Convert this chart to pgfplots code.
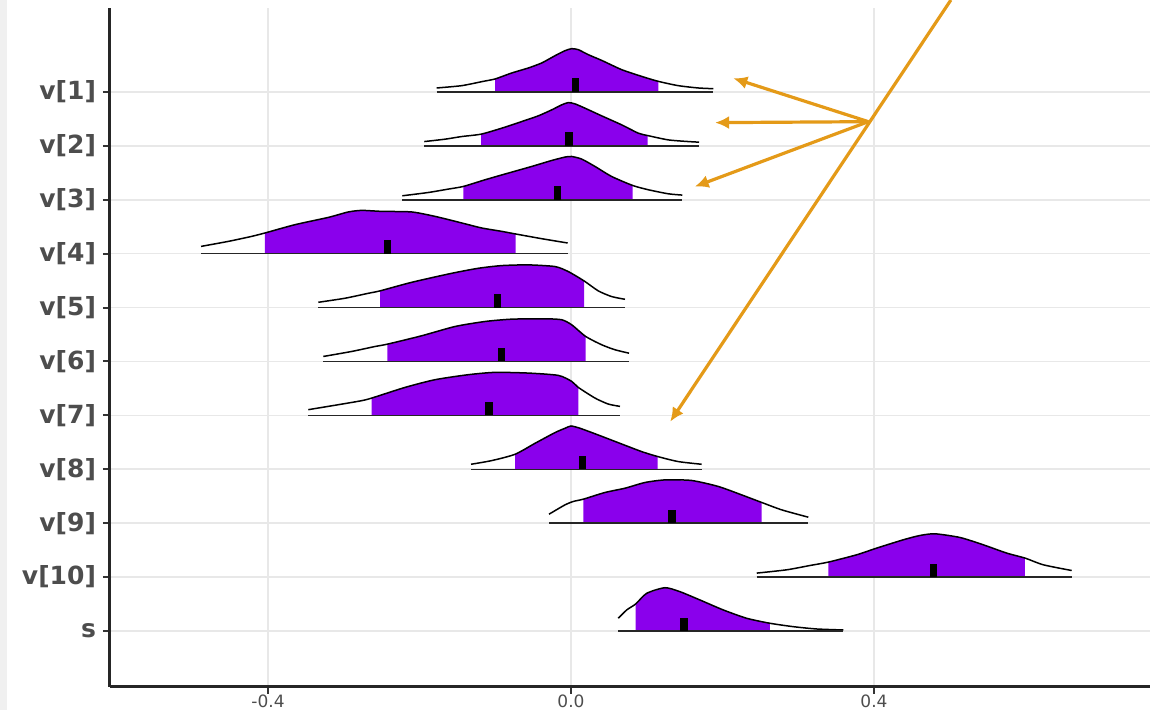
\documentclass[border=0pt]{standalone}
\usepackage{pgfplots}
\pgfplotsset{compat=1.18}
\usepackage{fontspec}
\setmainfont{DejaVu Sans}
\usetikzlibrary{arrows.meta}
\definecolor{vpurple}{RGB}{138,0,236}
\definecolor{arrowcol}{RGB}{228,154,24}
\definecolor{gridc}{RGB}{232,232,232}
\definecolor{txt}{HTML}{4D4D4D}
\pgfplotsset{
  outl/.style={black, line width=0.75pt, smooth, tension=0.4},
  basel/.style={black!85, line width=0.75pt},
  med/.style={black, line width=3.7pt},
  pfill/.style={fill=vpurple, draw=none},
  arr/.style={arrowcol, line width=1.6pt, -{Latex[length=7pt,width=6.5pt]}},
}
\begin{document}
\begin{tikzpicture}
\fill[black!6] (0,0) rectangle (3.5pt,355pt);
\begin{axis}[
  scale only axis, width=520pt, height=339.5pt,
  at={(55pt,11.5pt)}, anchor=south west,
  xmin=-0.6086, xmax=0.7644, ymin=-0.039, ymax=12.558,
  axis x line*=bottom, axis y line*=left,
  x axis line style={-, line width=1.5pt, black!85},
  y axis line style={-, line width=1.5pt, black!85},
  xtick={-0.4,0,0.4}, xticklabels={-0.4,0.0,0.4},
  ytick={1,2,3,4,5,6,7,8,9,10,11},
  yticklabels={s,v[10],v[9],v[8],v[7],v[6],v[5],v[4],v[3],v[2],v[1]},
  xtick align=outside, ytick align=outside, major tick length=3.5pt,
  major tick style={black!80, line width=1pt},
  grid=major, major grid style={gridc, line width=0.8pt},
  yticklabel style={font=\fontsize{12.5}{14}\selectfont\bfseries, text=txt},
  xticklabel style={font=\fontsize{8.5}{10}\selectfont, text=txt, yshift=3pt},
  clip=false,
]
% v[1]
\addplot[pfill] table[x index=0, y expr=\thisrowno{1}+11] {
-0.1003 0
-0.1003 0.241
-0.0783 0.352
-0.0564 0.445
-0.0387 0.538
-0.0211 0.673
-0.0079 0.766
0.0009 0.803
0.0096 0.785
0.0228 0.692
0.0405 0.586
0.0669 0.414
0.0933 0.289
0.1152 0.197
0.1152 0
} -- cycle;
\addplot[outl] table[x index=0, y expr=\thisrowno{1}+11] {
-0.1773 0.074
-0.1443 0.117
-0.1158 0.197
-0.1003 0.241
-0.0783 0.352
-0.0564 0.445
-0.0387 0.538
-0.0211 0.673
-0.0079 0.766
0.0009 0.803
0.0096 0.785
0.0228 0.692
0.0405 0.586
0.0669 0.414
0.0933 0.289
0.1152 0.197
0.1416 0.117
0.1681 0.074
0.1879 0.061
};
\addplot[basel] coordinates {(-0.1773,11) (0.1879,11)};
\addplot[med] coordinates {(0.0057,11) (0.0057,11.25)};
% v[2]
\addplot[pfill] table[x index=0, y expr=\thisrowno{1}+10] {
-0.1188 0
-0.1188 0.217
-0.0915 0.328
-0.0651 0.451
-0.0432 0.557
-0.0255 0.668
-0.0123 0.761
-0.0036 0.803
0.0053 0.779
0.0185 0.699
0.0405 0.557
0.0669 0.390
0.0888 0.236
0.1013 0.191
0.1013 0
} -- cycle;
\addplot[outl] table[x index=0, y expr=\thisrowno{1}+10] {
-0.1937 0.080
-0.1663 0.124
-0.1443 0.173
-0.1188 0.217
-0.0915 0.328
-0.0651 0.451
-0.0432 0.557
-0.0255 0.668
-0.0123 0.761
-0.0036 0.803
0.0053 0.779
0.0185 0.699
0.0405 0.557
0.0669 0.390
0.0888 0.236
0.1013 0.191
0.1284 0.111
0.1549 0.080
0.1690 0.069
};
\addplot[basel] coordinates {(-0.1937,10) (0.1690,10)};
\addplot[med] coordinates {(-0.0029,10) (-0.0029,10.25)};
% v[3]
\addplot[pfill] table[x index=0, y expr=\thisrowno{1}+9] {
-0.1422 0
-0.1422 0.247
-0.1135 0.371
-0.0828 0.495
-0.0519 0.618
-0.0255 0.729
-0.0079 0.792
0.0009 0.803
0.0141 0.755
0.0317 0.618
0.0537 0.432
0.0815 0.265
0.0815 0
} -- cycle;
\addplot[outl] table[x index=0, y expr=\thisrowno{1}+9] {
-0.2227 0.074
-0.1884 0.135
-0.1620 0.198
-0.1422 0.247
-0.1135 0.371
-0.0828 0.495
-0.0519 0.618
-0.0255 0.729
-0.0079 0.792
0.0009 0.803
0.0141 0.755
0.0317 0.618
0.0537 0.432
0.0815 0.265
0.1020 0.186
0.1284 0.111
0.1469 0.087
};
\addplot[basel] coordinates {(-0.2227,9) (0.1469,9)};
\addplot[med] coordinates {(-0.0182,9) (-0.0182,9.25)};
% v[4]
\addplot[pfill] table[x index=0, y expr=\thisrowno{1}+8] {
-0.4040 0
-0.4040 0.384
-0.3644 0.538
-0.3204 0.673
-0.2940 0.774
-0.2763 0.803
-0.2499 0.785
-0.2103 0.774
-0.1795 0.692
-0.1443 0.570
-0.1179 0.477
-0.0915 0.414
-0.0730 0.365
-0.0730 0
} -- cycle;
\addplot[outl] table[x index=0, y expr=\thisrowno{1}+8] {
-0.4884 0.135
-0.4524 0.228
-0.4215 0.321
-0.4040 0.384
-0.3644 0.538
-0.3204 0.673
-0.2940 0.774
-0.2763 0.803
-0.2499 0.785
-0.2103 0.774
-0.1795 0.692
-0.1443 0.570
-0.1179 0.477
-0.0915 0.414
-0.0730 0.365
-0.0387 0.278
-0.0044 0.198
};
\addplot[basel] coordinates {(-0.4884,8) (-0.0044,8)};
\addplot[med] coordinates {(-0.2419,8) (-0.2419,8.25)};
% v[5]
\addplot[pfill] table[x index=0, y expr=\thisrowno{1}+7] {
-0.2521 0
-0.2521 0.310
-0.2103 0.469
-0.1575 0.636
-0.1224 0.729
-0.0915 0.779
-0.0564 0.792
-0.0211 0.761
-0.0036 0.668
0.0172 0.495
0.0172 0
} -- cycle;
\addplot[outl] table[x index=0, y expr=\thisrowno{1}+7] {
-0.3336 0.098
-0.2984 0.173
-0.2676 0.265
-0.2521 0.310
-0.2103 0.469
-0.1575 0.636
-0.1224 0.729
-0.0915 0.779
-0.0564 0.792
-0.0211 0.761
-0.0036 0.668
0.0172 0.495
0.0360 0.310
0.0537 0.204
0.0713 0.154
};
\addplot[basel] coordinates {(-0.3336,7) (0.0713,7)};
\addplot[med] coordinates {(-0.0974,7) (-0.0974,7.25)};
% v[6]
\addplot[pfill] table[x index=0, y expr=\thisrowno{1}+6] {
-0.2425 0
-0.2425 0.321
-0.1971 0.477
-0.1531 0.649
-0.1135 0.742
-0.0783 0.785
-0.0343 0.792
-0.0123 0.774
0.0009 0.681
0.0194 0.464
0.0194 0
} -- cycle;
\addplot[outl] table[x index=0, y expr=\thisrowno{1}+6] {
-0.3270 0.093
-0.2895 0.186
-0.2587 0.278
-0.2425 0.321
-0.1971 0.477
-0.1531 0.649
-0.1135 0.742
-0.0783 0.785
-0.0343 0.792
-0.0123 0.774
0.0009 0.681
0.0194 0.464
0.0405 0.310
0.0581 0.217
0.0766 0.154
};
\addplot[basel] coordinates {(-0.3270,6) (0.0766,6)};
\addplot[med] coordinates {(-0.0921,6) (-0.0921,6.25)};
% v[7]
\addplot[pfill] table[x index=0, y expr=\thisrowno{1}+5] {
-0.2631 0
-0.2631 0.321
-0.2191 0.519
-0.1795 0.662
-0.1356 0.755
-0.1003 0.798
-0.0564 0.785
-0.0168 0.742
0.0009 0.631
0.0096 0.519
0.0096 0
} -- cycle;
\addplot[outl] table[x index=0, y expr=\thisrowno{1}+5] {
-0.3468 0.106
-0.3072 0.198
-0.2763 0.273
-0.2631 0.321
-0.2191 0.519
-0.1795 0.662
-0.1356 0.755
-0.1003 0.798
-0.0564 0.785
-0.0168 0.742
0.0009 0.631
0.0096 0.519
0.0317 0.321
0.0492 0.210
0.0647 0.167
};
\addplot[basel] coordinates {(-0.3468,5) (0.0647,5)};
\addplot[med] coordinates {(-0.1085,5) (-0.1085,5.25)};
% v[8]
\addplot[pfill] table[x index=0, y expr=\thisrowno{1}+4] {
-0.0739 0
-0.0739 0.278
-0.0475 0.482
-0.0211 0.681
-0.0079 0.761
0.0000 0.803
0.0119 0.761
0.0360 0.636
0.0669 0.469
0.0933 0.328
0.1145 0.236
0.1145 0
} -- cycle;
\addplot[outl] table[x index=0, y expr=\thisrowno{1}+4] {
-0.1320 0.093
-0.1047 0.161
-0.0739 0.278
-0.0475 0.482
-0.0211 0.681
-0.0079 0.761
0.0000 0.803
0.0119 0.761
0.0360 0.636
0.0669 0.469
0.0933 0.328
0.1145 0.236
0.1416 0.143
0.1725 0.093
};
\addplot[basel] coordinates {(-0.1320,4) (0.1725,4)};
\addplot[med] coordinates {(0.0149,4) (0.0149,4.25)};
% v[9]
\addplot[pfill] table[x index=0, y expr=\thisrowno{1}+3] {
0.0162 0
0.0162 0.445
0.0449 0.570
0.0713 0.649
0.0977 0.755
0.1241 0.803
0.1593 0.792
0.1945 0.681
0.2253 0.525
0.2518 0.384
0.2518 0
} -- cycle;
\addplot[outl] table[x index=0, y expr=\thisrowno{1}+3] {
-0.0290 0.167
-0.0079 0.340
0.0030 0.403
0.0162 0.445
0.0449 0.570
0.0713 0.649
0.0977 0.755
0.1241 0.803
0.1593 0.792
0.1945 0.681
0.2253 0.525
0.2518 0.384
0.2782 0.247
0.3133 0.111
};
\addplot[basel] coordinates {(-0.0290,3) (0.3133,3)};
\addplot[med] coordinates {(0.1333,3) (0.1333,3.25)};
% v[10]
\addplot[pfill] table[x index=0, y expr=\thisrowno{1}+2] {
0.3397 0
0.3397 0.278
0.3772 0.414
0.4036 0.538
0.4387 0.692
0.4607 0.772
0.4805 0.803
0.5135 0.735
0.5443 0.599
0.5752 0.445
0.5993 0.353
0.5993 0
} -- cycle;
\addplot[outl] table[x index=0, y expr=\thisrowno{1}+2] {
0.2452 0.074
0.2848 0.135
0.3155 0.215
0.3397 0.278
0.3772 0.414
0.4036 0.538
0.4387 0.692
0.4607 0.772
0.4805 0.803
0.5135 0.735
0.5443 0.599
0.5752 0.445
0.5993 0.353
0.6235 0.228
0.6610 0.122
};
\addplot[basel] coordinates {(0.2452,2) (0.6610,2)};
\addplot[med] coordinates {(0.4785,2) (0.4785,2.25)};
% s
\addplot[pfill] table[x index=0, y expr=\thisrowno{1}+1] {
0.0854 0
0.0854 0.501
0.0999 0.699
0.1241 0.803
0.1439 0.729
0.1703 0.575
0.2011 0.390
0.2319 0.236
0.2627 0.143
0.2627 0
} -- cycle;
\addplot[outl] table[x index=0, y expr=\thisrowno{1}+1] {
0.0624 0.236
0.0735 0.390
0.0854 0.501
0.0999 0.699
0.1241 0.803
0.1439 0.729
0.1703 0.575
0.2011 0.390
0.2319 0.236
0.2627 0.143
0.2935 0.080
0.3244 0.037
0.3595 0.019
};
\addplot[basel] coordinates {(0.0624,1) (0.3595,1)};
\addplot[med] coordinates {(0.1494,1) (0.1494,1.25)};
% arrows
\addplot[arr] coordinates {(0.5015,12.707) (0.1310,4.883)};
\addplot[arr] coordinates {(0.3926,10.449) (0.2143,11.254)};
\addplot[arr] coordinates {(0.3926,10.449) (0.1902,10.431)};
\addplot[arr] coordinates {(0.3926,10.449) (0.1633,9.243)};
\end{axis}
\pgfresetboundingbox
\useasboundingbox (0,0) rectangle (575pt,355pt);
\end{tikzpicture}
\end{document}
